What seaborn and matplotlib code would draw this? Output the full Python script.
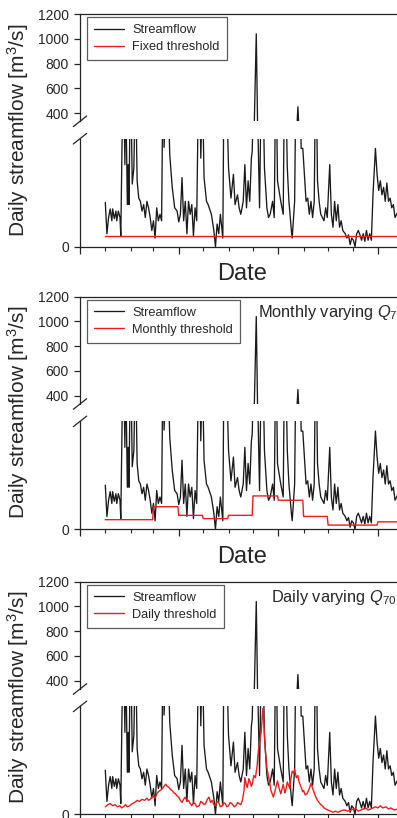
import numpy as np
import pandas as pd
import matplotlib
matplotlib.use("Agg")
import matplotlib.pyplot as plt
import matplotlib.dates as mdates
import seaborn as sns

# ---------------- data ----------------
start_date = "2001-01-01"
flow_day = [0, 2, 4, 6, 8, 9, 11, 13, 14, 16, 18, 19, 22, 24, 25, 27, 28, 29, 31, 33,
            35, 37, 39, 41, 43, 45, 47, 49, 51, 53, 55, 57, 59, 61, 63, 65, 67, 69, 71, 72,
            75, 77, 79, 82, 85, 88, 90, 92, 94, 96, 98, 100, 102, 104, 106, 108, 110, 112, 115, 117,
            119, 121, 124, 126, 130, 133, 135, 137, 139, 141, 144, 146, 149, 151, 154, 157, 159, 162, 164, 166,
            169, 171, 173, 175, 177, 179, 180, 182, 185, 187, 189, 192, 195, 198, 200, 202, 205, 207, 209, 211,
            215, 218, 220, 223, 225, 228, 229, 232, 234, 236, 238, 240, 242, 244, 246, 248, 250, 252, 254, 256,
            258, 260, 262, 264, 266, 268, 270, 272, 275, 277, 279, 281, 283, 285, 287, 289, 291, 294, 296, 298,
            300, 302, 304, 306, 308, 310, 312, 314, 316, 318, 320, 322, 324, 326, 328, 331, 333, 335, 337, 339,
            341, 343, 345, 347, 349, 351, 353, 355, 357, 360, 366]
flow_value = [41, 12, 27, 35, 24, 35, 26, 33, 24, 33, 27, 10, 180, 76, 150, 39, 76, 39, 170, 58,
              73, 160, 61, 45, 42, 33, 39, 27, 42, 36, 27, 15, 24, 8, 36, 24, 30, 24, 190, 92,
              150, 140, 85, 55, 36, 33, 23, 30, 64, 24, 42, 12, 42, 30, 39, 10, 36, 24, 200, 82,
              150, 64, 42, 39, 30, 15, 0, 21, 12, 30, 8, 220, 130, 73, 45, 67, 39, 48, 36, 30,
              42, 76, 36, 61, 42, 82, 88, 150, 1040, 110, 36, 200, 73, 36, 27, 30, 42, 27, 180, 61,
              42, 30, 200, 73, 42, 15, 8, 42, 190, 450, 170, 91, 91, 67, 42, 45, 30, 42, 27, 42,
              190, 61, 42, 30, 27, 24, 36, 27, 76, 30, 18, 42, 24, 39, 18, 24, 15, 12, 8, 11,
              2, 8, 6, 0, 12, 15, 11, 6, 12, 5, 15, 6, 12, 6, 48, 91, 67, 52, 61, 48,
              55, 42, 59, 42, 45, 36, 39, 27, 30, 35, 30]

fixed_threshold = 10
monthly_threshold = [9, 9, 21, 13, 10, 13, 31, 27, 12, 4, 4, 7]   # Jan..Dec
daily_thr_day = [0, 3, 6, 9, 12, 15, 18, 20, 22, 25, 27, 30, 33, 36, 39, 42, 45, 48, 51, 53,
                 55, 57, 59, 61, 63, 65, 67, 70, 72, 74, 76, 78, 80, 82, 84, 86, 88, 90, 92, 94,
                 96, 98, 100, 102, 104, 106, 108, 110, 112, 115, 117, 119, 121, 123, 125, 127, 129, 131, 133, 135,
                 137, 139, 141, 143, 145, 147, 149, 151, 153, 155, 158, 160, 162, 164, 166, 168, 170, 171, 173, 174,
                 176, 177, 179, 180, 182, 184, 186, 187, 189, 191, 193, 194, 196, 198, 200, 201, 203, 205, 206, 208,
                 209, 211, 213, 215, 217, 218, 220, 221, 223, 224, 226, 227, 229, 231, 232, 234, 236, 237, 239, 240,
                 242, 243, 245, 247, 249, 251, 252, 254, 255, 257, 258, 260, 262, 264, 266, 268, 270, 273, 276, 279,
                 282, 285, 288, 291, 294, 297, 301, 304, 307, 310, 313, 316, 319, 322, 325, 328, 331, 334, 337, 340,
                 344, 347, 350, 354, 358, 362, 366]
daily_thr_value = [7, 9, 10, 8, 9, 7, 8, 6, 7, 9, 7, 8, 10, 11, 13, 12, 14, 13, 15, 13,
                   14, 16, 17, 15, 19, 21, 22, 24, 26, 28, 26, 25, 23, 22, 20, 19, 17, 16, 13, 11,
                   14, 16, 12, 13, 10, 8, 11, 10, 7, 8, 12, 11, 9, 10, 14, 16, 11, 13, 9, 8,
                   12, 11, 7, 8, 11, 10, 7, 8, 11, 10, 7, 8, 11, 10, 9, 13, 22, 34, 27, 25,
                   33, 31, 26, 28, 36, 34, 45, 55, 67, 76, 98, 88, 61, 43, 35, 31, 22, 18, 16, 22,
                   25, 31, 24, 19, 25, 28, 20, 22, 30, 28, 24, 31, 40, 38, 42, 34, 36, 31, 27, 25,
                   21, 22, 18, 19, 22, 26, 29, 24, 22, 18, 16, 13, 11, 9, 8, 6, 5, 4, 3, 2,
                   3, 2, 3, 4, 4, 3, 4, 5, 5, 3, 4, 5, 6, 4, 5, 6, 7, 6, 8, 6,
                   7, 5, 6, 4, 5, 4, 5]

threshold_labels = ["Fixed threshold", "Monthly threshold", "Daily threshold"]
panel_notes = ["", r"Monthly varying $\mathit{Q}_{\mathit{70}}$", r"Daily varying $\mathit{Q}_{\mathit{70}}$"]
upper_ticks = [400, 600, 800, 1000, 1200]
lower_ticks = [0]
upper_range = (333, 1200)
lower_range = (0, 100)
x_range = ("2000-12-01", "2002-01-02")
y_label = r"Daily streamflow [m$^3$/s]"
x_label = "Date"

# ---------------- build tables ----------------
t0 = pd.Timestamp(start_date)
flow_df = pd.DataFrame({"date": t0 + pd.to_timedelta(flow_day, unit="D"), "q": flow_value})
all_days = pd.date_range(start_date, "2002-01-04", freq="D")
fixed_df = pd.DataFrame({"date": all_days, "q": fixed_threshold})
monthly_df = pd.DataFrame({"date": all_days,
                           "q": [monthly_threshold[d.month - 1] if d.year == 2001 else monthly_threshold[-1]
                                 for d in all_days]})
daily_df = pd.DataFrame({"date": t0 + pd.to_timedelta(daily_thr_day, unit="D"), "q": daily_thr_value})
thr_tables = [fixed_df, monthly_df, daily_df]

# ---------------- style ----------------
sns.set_style("ticks")
plt.rcParams["font.family"] = ["Liberation Sans", "DejaVu Sans"]
plt.rcParams["mathtext.fontset"] = "custom"
plt.rcParams["mathtext.rm"] = "Liberation Sans"
plt.rcParams["mathtext.it"] = "Liberation Sans:italic"
plt.rcParams["mathtext.bf"] = "Liberation Sans:bold"

W, H = 397, 818
fig = plt.figure(figsize=(W / 100, H / 100), dpi=100)
panel_tops = [14, 296.7, 581.7]
note_left = [0, 258, 271]
axL, axW = 80 / W, 324 / W
black = "#1a1a1a"
red = "#ee1c1c"
xmin, xmax = pd.Timestamp(x_range[0]), pd.Timestamp(x_range[1])

for i, T in enumerate(panel_tops):
    ax_up = fig.add_axes([axL, 1 - (T + 107.3) / H, axW, 107.3 / H])
    ax_lo = fig.add_axes([axL, 1 - (T + 232.7) / H, axW, 108 / H])

    for ax, lab in ((ax_up, True), (ax_lo, False)):
        sns.lineplot(data=flow_df, x="date", y="q", ax=ax, color=black, lw=0.95,
                     estimator=None, sort=False, label="Streamflow" if lab else None, legend=False)
        sns.lineplot(data=thr_tables[i], x="date", y="q", ax=ax, color=red, lw=1.0,
                     estimator=None, sort=False, label=threshold_labels[i] if lab else None, legend=False)
        ax.set_xlim(xmin, xmax)
        ax.set_xlabel("")
        ax.set_ylabel("")
        for s in ax.spines.values():
            s.set_linewidth(0.9)
            s.set_color("#222222")

    ax_up.set_ylim(*upper_range)
    ax_up.set_yticks(upper_ticks)
    ax_up.spines["bottom"].set_visible(False)
    ax_up.spines["right"].set_visible(False)
    ax_up.tick_params(axis="x", which="both", bottom=False, labelbottom=False)
    ax_up.tick_params(axis="y", length=4, width=0.9, labelsize=10, pad=4)

    ax_lo.set_ylim(*lower_range)
    ax_lo.set_yticks(lower_ticks)
    ax_lo.spines["top"].set_visible(False)
    ax_lo.spines["right"].set_visible(False)
    ax_lo.tick_params(axis="y", length=4, width=0.9, labelsize=10, pad=4)
    ax_lo.xaxis.set_major_locator(mdates.MonthLocator(bymonth=[4, 8, 12]))
    ax_lo.xaxis.set_minor_locator(mdates.MonthLocator())
    ax_lo.tick_params(axis="x", which="major", length=5, width=0.9, labelbottom=False)
    ax_lo.tick_params(axis="x", which="minor", length=3, width=0.8, labelbottom=False)
    ax_lo.set_xlabel(x_label, fontsize=17, labelpad=7)

    # break marks
    kw = dict(color="#222222", lw=0.9, clip_on=False)
    dx, dy = 6.7 / 324, 5.3 / 107.3
    ax_up.plot([-dx, dx], [-dy, dy], transform=ax_up.transAxes, **kw)
    dy2 = 5.3 / 108
    ax_lo.plot([-dx, dx], [1 - dy2, 1 + dy2], transform=ax_lo.transAxes, **kw)

    leg = ax_up.legend(loc="upper left", bbox_to_anchor=(0.022, 0.972), borderaxespad=0,
                       fontsize=9.2, frameon=True, fancybox=False, handlelength=2.3,
                       handletextpad=0.7, labelspacing=0.4, borderpad=0.55)
    leg.get_frame().set_edgecolor("#333333")
    leg.get_frame().set_linewidth(0.9)

    if panel_notes[i]:
        fig.text(note_left[i] / W, 1 - (T + 6) / H, panel_notes[i], fontsize=11.8, ha="left", va="top")

    fig.text(18 / W, 1 - (T + 116) / H, y_label, fontsize=15, rotation=90, ha="center", va="center")

fig.savefig("out.png", dpi=100)
